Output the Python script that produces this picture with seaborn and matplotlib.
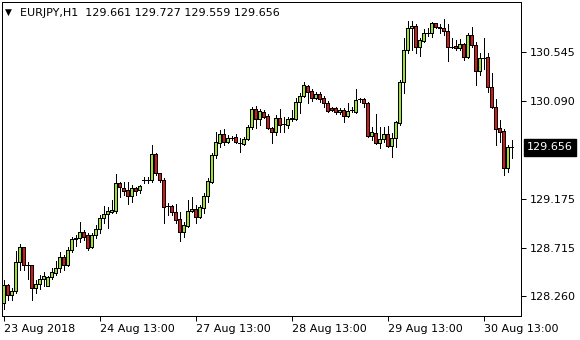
import numpy as np
import pandas as pd
import matplotlib
matplotlib.use("Agg")
import matplotlib.pyplot as plt
import seaborn as sns

# ---- data (EURJPY, H1) ----
opens = [128.195, 128.364, 128.270, 128.310, 128.576, 128.717, 128.551, 128.551, 128.333, 128.370,
         128.420, 128.357, 128.443, 128.480, 128.521, 128.624, 128.551, 128.692, 128.795, 128.802,
         128.858, 128.833, 128.717, 128.833, 128.886, 128.989, 129.030, 129.045, 129.061, 129.318,
         129.271, 129.255, 129.199, 129.271, 129.255, 129.349, 129.349, 129.349, 129.593, 129.411,
         129.349, 129.108, 129.105, 129.051, 128.980, 128.864, 128.917, 129.058, 129.077, 128.999,
         129.083, 129.199, 129.333, 129.583, 129.699, 129.780, 129.708, 129.745, 129.749, 129.693,
         129.686, 129.730, 129.849, 130.012, 129.918, 129.984, 129.952, 129.839, 129.802, 129.927,
         129.871, 129.865, 129.918, 129.918, 130.077, 130.139, 130.231, 130.183, 130.121, 130.155,
         130.115, 130.068, 130.021, 130.021, 129.984, 130.005, 129.952, 130.005, 129.989, 130.106,
         130.106, 130.074, 129.764, 129.787, 129.693, 129.730, 129.780, 129.670, 129.740, 129.880,
         130.265, 130.568, 130.772, 130.793, 130.599, 130.655, 130.730, 130.730, 130.818, 130.787,
         130.772, 130.749, 130.599, 130.606, 130.584, 130.624, 130.505, 130.709, 130.615, 130.374,
         130.490, 130.499, 130.218, 130.031, 129.833, 129.811, 129.458, 129.661]
closes = [128.364, 128.270, 128.310, 128.576, 128.717, 128.551, 128.553, 128.333, 128.370, 128.420,
          128.448, 128.443, 128.484, 128.521, 128.624, 128.551, 128.692, 128.795, 128.805, 128.858,
          128.811, 128.715, 128.833, 128.886, 128.989, 129.030, 129.061, 129.067, 129.318, 129.280,
          129.248, 129.199, 129.271, 129.248, 129.292, 129.351, 129.352, 129.593, 129.411, 129.349,
          129.098, 129.106, 129.046, 128.973, 128.864, 128.927, 129.058, 129.077, 128.999, 129.098,
          129.199, 129.342, 129.583, 129.708, 129.780, 129.708, 129.740, 129.747, 129.702, 129.691,
          129.730, 129.843, 130.012, 129.918, 129.996, 129.942, 129.833, 129.802, 129.927, 129.865,
          129.869, 129.921, 129.933, 130.077, 130.139, 130.240, 130.177, 130.115, 130.155, 130.108,
          130.068, 129.996, 130.005, 129.984, 130.005, 129.952, 129.996, 130.003, 130.099, 130.108,
          130.074, 129.761, 129.796, 129.693, 129.733, 129.780, 129.670, 129.740, 129.890, 130.271,
          130.568, 130.772, 130.793, 130.599, 130.662, 130.725, 130.732, 130.818, 130.781, 130.772,
          130.749, 130.599, 130.597, 130.584, 130.624, 130.500, 130.709, 130.615, 130.374, 130.490,
          130.492, 130.218, 130.031, 129.824, 129.802, 129.458, 129.661, 129.656]
highs = [128.411, 128.373, 128.336, 128.685, 128.748, 128.723, 128.582, 128.555, 128.411, 128.458,
         128.488, 128.452, 128.521, 128.590, 128.676, 128.645, 128.723, 128.817, 128.833, 128.957,
         128.880, 128.852, 128.849, 128.927, 129.020, 129.108, 129.098, 129.161, 129.405, 129.333,
         129.333, 129.333, 129.302, 129.286, 129.302, 129.374, 129.374, 129.677, 129.600, 129.417,
         129.365, 129.133, 129.114, 129.121, 129.051, 128.957, 129.161, 129.192, 129.114, 129.114,
         129.224, 129.365, 129.599, 129.802, 129.818, 129.824, 129.771, 129.762, 129.777, 129.740,
         129.755, 129.865, 130.031, 130.043, 130.012, 130.005, 129.968, 129.849, 129.958, 130.015,
         129.942, 129.942, 130.005, 130.121, 130.162, 130.271, 130.240, 130.202, 130.177, 130.177,
         130.139, 130.090, 130.037, 130.037, 130.027, 130.021, 130.068, 130.031, 130.199, 130.115,
         130.115, 130.083, 129.843, 129.968, 129.843, 129.843, 129.855, 129.792, 129.905, 130.287,
         130.678, 130.843, 130.840, 130.809, 130.678, 130.762, 130.772, 130.833, 130.824, 130.812,
         130.856, 130.812, 130.678, 130.662, 130.668, 130.631, 130.730, 130.781, 130.646, 130.537,
         130.678, 130.537, 130.349, 130.106, 129.911, 129.824, 129.677, 129.727]
lows = [128.138, 128.223, 128.223, 128.286, 128.504, 128.504, 128.417, 128.223, 128.286, 128.324,
        128.355, 128.355, 128.424, 128.458, 128.488, 128.504, 128.542, 128.676, 128.730, 128.770,
        128.786, 128.692, 128.708, 128.802, 128.849, 128.942, 128.895, 129.039, 129.036, 129.192,
        129.208, 129.121, 129.145, 129.208, 129.224, 129.324, 129.324, 129.333, 129.395, 129.333,
        128.948, 129.020, 129.020, 128.948, 128.776, 128.817, 128.911, 129.051, 128.942, 128.989,
        129.036, 129.145, 129.318, 129.552, 129.661, 129.677, 129.699, 129.724, 129.693, 129.614,
        129.677, 129.724, 129.824, 129.833, 129.865, 129.927, 129.830, 129.693, 129.771, 129.802,
        129.796, 129.833, 129.902, 129.911, 129.974, 130.130, 130.068, 130.090, 130.108, 130.077,
        130.037, 129.989, 129.996, 129.965, 129.965, 129.895, 129.942, 129.989, 129.980, 130.083,
        130.037, 129.755, 129.724, 129.686, 129.646, 129.708, 129.661, 129.567, 129.661, 129.865,
        130.167, 130.537, 130.568, 130.537, 130.515, 130.646, 130.699, 130.693, 130.772, 130.730,
        130.709, 130.468, 130.584, 130.568, 130.568, 130.474, 130.490, 130.593, 130.240, 130.333,
        130.387, 130.177, 130.021, 129.677, 129.708, 129.395, 129.427, 129.559]

date_tick_pos = [0, 24, 48, 72, 96, 120]
date_tick_labels = ["23 Aug 2018", "24 Aug 13:00", "27 Aug 13:00",
                    "28 Aug 13:00", "29 Aug 13:00", "30 Aug 13:00"]
price_ticks = [128.260, 128.715, 129.175, 130.090, 130.545]
symbol = "EURJPY,H1"
last_price = 129.656

df = pd.DataFrame({"open": opens, "high": highs, "low": lows, "close": closes})
df["idx"] = np.arange(len(df))

sns.set_theme(style="white")
plt.rcParams["font.family"] = ["DejaVu Sans"]

BULL = "#9BE22E"
BEAR = "#D41818"
PX = 0.72  # one pixel in points at 100 dpi

fig = plt.figure(figsize=(5.8, 3.4), dpi=100)
ax = fig.add_axes([2 / 580, 24 / 340, 519 / 580, 314 / 340])
ax.set_facecolor("white")

# wicks
ax.vlines(df["idx"], df["low"], df["high"], color="black", linewidth=PX,
          antialiased=False, zorder=2)

# bodies
body = df["close"] - df["open"]
colors = np.where(body > 0.0025, BULL, np.where(body < -0.0025, BEAR, "black"))
heights = np.where(body.abs() < 0.0025, 0.0005, body)
ax.bar(df["idx"], heights, bottom=df["open"], width=0.75, color=colors,
       edgecolor="black", linewidth=PX, antialiased=False, zorder=3)

ax.set_xlim(-0.375, 129.375)
ax.set_ylim(128.073, 131.018)

for s in ax.spines.values():
    s.set_color("black")
    s.set_linewidth(PX)

ax.yaxis.tick_right()
ax.set_yticks(price_ticks)
ax.set_yticklabels([f"{v:.3f}" for v in price_ticks])
ax.set_xticks(date_tick_pos)
ax.set_xticklabels(date_tick_labels, ha="left")
ax.tick_params(axis="both", direction="out", length=3.5, width=PX, color="black",
               labelsize=8, labelcolor="black")
ax.tick_params(axis="y", pad=3, left=False, right=True)
ax.tick_params(axis="x", pad=2, bottom=True)
ax.set_xlabel("")
ax.set_ylabel("")

# last price label
ax.annotate(f"{last_price:.3f}", xy=(1, last_price), xycoords=("axes fraction", "data"),
            xytext=(4.5, 0), textcoords="offset points", ha="left", va="center",
            fontsize=8, color="white",
            bbox=dict(boxstyle="square,pad=0.3", fc="black", ec="black"))

# header
fig.text(5 / 580, 1 - 12.5 / 340, "\u25BC", fontsize=6.5, ha="left", va="center", color="black")
fig.text(20 / 580, 1 - 12.5 / 340,
         f"{symbol}  {opens[-1]:.3f} {highs[-1]:.3f} {lows[-1]:.3f} {closes[-1]:.3f}",
         fontsize=8, ha="left", va="center", color="black")

fig.savefig("out.png", dpi=100, facecolor="white")
